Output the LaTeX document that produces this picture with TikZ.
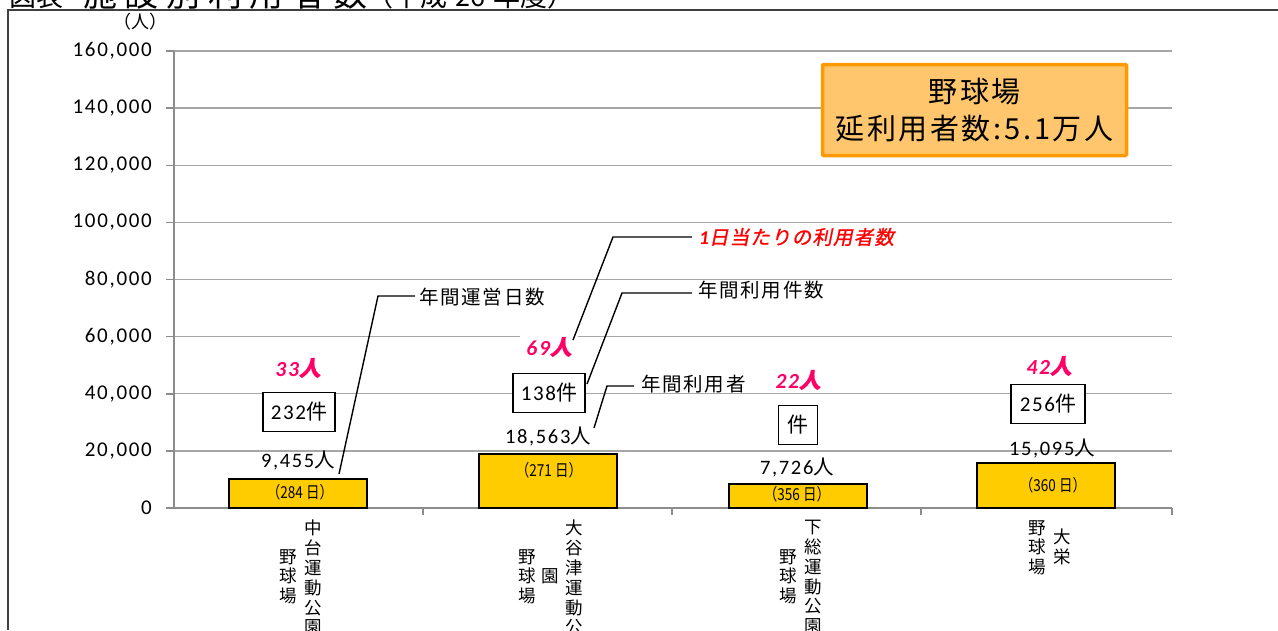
\documentclass[tikz,border=0pt]{standalone}
\usepackage{fontspec}
\setmainfont{Carlito}[LetterSpace=8]
\newfontfamily\jp{Noto Sans CJK JP}[LetterSpace=9]
\newfontfamily\jpplain{Noto Sans CJK JP}
\newfontfamily\jpbi{Noto Sans CJK JP}[FakeSlant=0.2,FakeBold=1.2,LetterSpace=6]
\definecolor{barc}{HTML}{FFCC00}
\definecolor{gridc}{HTML}{A6A6A6}
\definecolor{axisc}{HTML}{8C8C8C}
\definecolor{pinkc}{HTML}{FF0066}
\definecolor{boxfill}{HTML}{FFC66E}
\definecolor{boxdraw}{HTML}{FF9900}
\tikzset{
  gridline/.style={draw=gridc, line width=1.3pt},
  axisline/.style={draw=axisc, line width=1.5pt},
  barbox/.style={fill=barc, draw=black, line width=1.4pt},
  ylab/.style={anchor=east, inner sep=0pt, font=\fontsize{21}{24}\selectfont},
  vallab/.style={inner sep=0pt, font=\fontsize{20.5}{24}\selectfont},
  cntbox/.style={draw=black, fill=white, line width=1.3pt, inner sep=0pt, minimum height=39pt, font=\fontsize{21}{24}\selectfont},
  daylab/.style={inner sep=0pt, font=\jpplain\fontsize{16.5}{18}\selectfont},
  pinklab/.style={inner sep=0pt, text=pinkc, font=\fontsize{21.5}{24}\selectfont\bfseries\itshape},
  whitebg/.style={fill=white, inner xsep=6pt, inner ysep=3pt},
  callout/.style={draw=black, line width=1.4pt},
  calltext/.style={inner sep=0pt, anchor=west, font=\jp\fontsize{19.5}{24}\selectfont},
  vcol/.style={inner sep=0pt, anchor=north, align=center, font=\jpplain\fontsize{17.5}{19.8}\selectfont},
  titlebox/.style={fill=boxfill, draw=boxdraw, line width=3.5pt, rounded corners=1pt},
  toptitle/.style={anchor=base west, inner sep=0pt, font=\jpplain\fontsize{27}{30}\selectfont},
}
\begin{document}
\begin{tikzpicture}[x=1pt,y=-1pt]
\useasboundingbox (0,0) rectangle (1278,630);
\clip (0,0) rectangle (1278,630);
% title (cut off at top)
\node[toptitle] (title1) at (9,6) {\makebox[50pt][s]{図\hfill 表}};
\node[toptitle, font=\jpplain\fontsize{34}{36}\selectfont] (title2) at (83,6) {\makebox[284pt][s]{施\hfill 設\hfill 別\hfill 利\hfill 用\hfill 者\hfill 数}};
\node[toptitle] (title3) at (366,6) {（平成\hspace{0.3em}26\hspace{0.3em}年度）};
% outer frame
\draw[draw=black!75, line width=1.5pt] (8,630) -- (8,10) -- (1278,10);
% grid
\foreach \i in {1,...,8} {
  \draw[gridline] (174,{508-57.125*\i}) -- (1172,{508-57.125*\i});
}
% axes
\draw[axisline] (174,51) -- (174,508) -- (1172,508);
\foreach \i in {0,...,8} {
  \draw[axisline] (166,{508-57.125*\i}) -- (174,{508-57.125*\i});
}
\foreach \xx in {423,672,921,1172} {
  \draw[axisline] (\xx,508) -- (\xx,515);
}
% y labels
\node[ylab] (y0) at (152,508) {0};
\node[ylab] (y1) at (152,450.9) {20,000};
\node[ylab] (y2) at (152,393.8) {40,000};
\node[ylab] (y3) at (152,336.6) {60,000};
\node[ylab] (y4) at (152,279.5) {80,000};
\node[ylab] (y5) at (152,222.4) {100,000};
\node[ylab] (y6) at (152,165.3) {120,000};
\node[ylab] (y7) at (152,108.1) {140,000};
\node[ylab] (y8) at (152,51) {160,000};
\node[inner sep=0pt, font=\jpplain\fontsize{18}{20}\selectfont] (unit) at (140,22) {（人）};
% bars
\draw[barbox] (229,479) rectangle (367,508);
\draw[barbox] (479,454) rectangle (617,508);
\draw[barbox] (729,484) rectangle (867,508);
\draw[barbox] (977,463) rectangle (1115,508);
\node[daylab] (d1) at (300,492) {\scalebox{0.82}[1]{（284 日）}};
\node[daylab] (d2) at (549,470) {\scalebox{0.82}[1]{（271 日）}};
\node[daylab] (d3) at (797,494) {\scalebox{0.82}[1]{（356 日）}};
\node[daylab] (d4) at (1053,485) {\scalebox{0.82}[1]{（360 日）}};
% value labels
\node[vallab] (v1) at (298,461) {9,455{\jp 人}};
\node[vallab] (v2) at (548,437) {18,563{\jp 人}};
\node[vallab] (v3) at (797,468) {7,726{\jp 人}};
\node[vallab] (v4) at (1052,449) {15,095{\jp 人}};
% count boxes
\node[cntbox, minimum width=72pt] (k1) at (299,412) {232{\jp 件}};
\node[cntbox, minimum width=72pt] (k2) at (549,393) {138{\jp 件}};
\node[cntbox, minimum width=39pt] (k3) at (798,425) {{\jp 件}};
\node[cntbox, minimum width=74pt] (k4) at (1048,404) {256{\jp 件}};
% per-day labels
\node[pinklab] (p1) at (298,368) {33{\jpbi 人}};
\node[pinklab, whitebg] (p2) at (549,347) {69{\jpbi 人}};
\node[pinklab, whitebg] (p3) at (798,380) {22{\jpbi 人}};
\node[pinklab] (p4) at (1049,366) {42{\jpbi 人}};
% callouts
\node[calltext] (t1) at (419,297) {年間運営日数};
\node[calltext, text=red, font=\fontsize{19.5}{24}\selectfont] (t2) at (699,237) {{\bfseries\itshape 1}{\jpbi 日当たりの利用者数}};
\node[calltext] (t3) at (698,290) {年間利用件数};
\node[calltext] (t4) at (641,384) {年間利用者};
\coordinate (c1a) at (339,474);
\coordinate (c1b) at (378,296);
\coordinate (c2a) at (573,340);
\coordinate (c2b) at (613,237);
\coordinate (c3a) at (587,384);
\coordinate (c3b) at (622,293);
\coordinate (c4a) at (594,428);
\coordinate (c4b) at (607,386);
\draw[callout] (c1a) -- (c1b) -- (415,296) coordinate (c1c);
\draw[callout] (c2a) -- (c2b) -- (692,237) coordinate (c2c);
\draw[callout] (c3a) -- (c3b) -- (692,293) coordinate (c3c);
\draw[callout] (c4a) -- (c4b) -- (634,386) coordinate (c4c);
% title box
\node[titlebox, minimum width=304pt, minimum height=91pt, align=center, font=\jp\fontsize{29}{37}\selectfont] (tb) at (974.5,110) {野球場\\延利用者数{\hspace{0.1em}:\hspace{0.1em}}5.1万人};
% category labels (vertical)
\node[vcol] (a1) at (313,520) {中\\台\\運\\動\\公\\園};
\node[vcol] (b1) at (288,549) {野\\球\\場};
\node[vcol] (a2) at (574,520) {大\\谷\\津\\運\\動\\公\\園};
\node[vcol] (m2) at (550,568) {園};
\node[vcol] (b2) at (527,549) {野\\球\\場};
\node[vcol] (a3) at (813,520) {下\\総\\運\\動\\公\\園};
\node[vcol] (b3) at (788,549) {野\\球\\場};
\node[vcol] (a4) at (1062,529) {大\\栄};
\node[vcol] (b4) at (1037,520) {野\\球\\場};
\end{tikzpicture}
\end{document}
